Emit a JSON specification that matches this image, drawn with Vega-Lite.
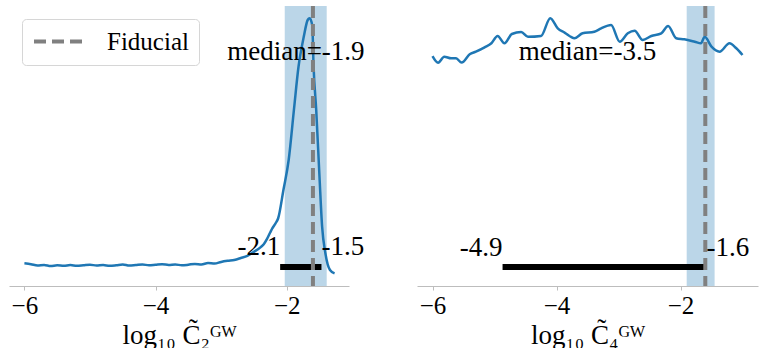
{
  "$schema": "https://vega.github.io/schema/vega-lite/v6.json",
  "padding": {"left": 9, "top": 4, "right": 6, "bottom": 0},
  "bounds": "flush",
  "spacing": 68,
  "config": {
    "view": {"stroke": null},
    "font": "Liberation Serif, DejaVu Serif, serif",
    "axisX": {
      "grid": false,
      "domainColor": "#bdbdbd",
      "domainWidth": 1,
      "tickColor": "#bdbdbd",
      "tickSize": 4,
      "labelFont": "Liberation Serif, DejaVu Serif, serif",
      "labelFontSize": 25,
      "labelColor": "black",
      "labelPadding": 3,
      "titleFont": "Liberation Serif, DejaVu Serif, serif",
      "titleFontSize": 27,
      "titleFontWeight": "normal",
      "titleColor": "black",
      "titlePadding": 4
    }
  },
  "datasets": {
    "kde2": [
      {"x": -6.0, "d": 0.081}, {"x": -5.9, "d": 0.078}, {"x": -5.8, "d": 0.073}, {"x": -5.7, "d": 0.075},
      {"x": -5.6, "d": 0.071}, {"x": -5.5, "d": 0.074}, {"x": -5.4, "d": 0.072}, {"x": -5.3, "d": 0.075},
      {"x": -5.2, "d": 0.072}, {"x": -5.1, "d": 0.074}, {"x": -5.0, "d": 0.076}, {"x": -4.9, "d": 0.073},
      {"x": -4.8, "d": 0.075}, {"x": -4.7, "d": 0.072}, {"x": -4.6, "d": 0.074}, {"x": -4.5, "d": 0.077},
      {"x": -4.4, "d": 0.073}, {"x": -4.3, "d": 0.075}, {"x": -4.2, "d": 0.077}, {"x": -4.1, "d": 0.074},
      {"x": -4.0, "d": 0.076}, {"x": -3.9, "d": 0.078}, {"x": -3.8, "d": 0.075}, {"x": -3.7, "d": 0.077},
      {"x": -3.6, "d": 0.074}, {"x": -3.5, "d": 0.076}, {"x": -3.4, "d": 0.079}, {"x": -3.3, "d": 0.077},
      {"x": -3.2, "d": 0.082}, {"x": -3.1, "d": 0.080}, {"x": -3.0, "d": 0.086}, {"x": -2.9, "d": 0.090},
      {"x": -2.8, "d": 0.093}, {"x": -2.7, "d": 0.100}, {"x": -2.6, "d": 0.108}, {"x": -2.5, "d": 0.122},
      {"x": -2.4, "d": 0.138}, {"x": -2.35, "d": 0.149}, {"x": -2.3, "d": 0.168}, {"x": -2.25, "d": 0.192},
      {"x": -2.22, "d": 0.206}, {"x": -2.17, "d": 0.224}, {"x": -2.13, "d": 0.242}, {"x": -2.05, "d": 0.343},
      {"x": -1.97, "d": 0.45}, {"x": -1.89, "d": 0.629}, {"x": -1.82, "d": 0.783}, {"x": -1.74, "d": 0.89},
      {"x": -1.68, "d": 0.95}, {"x": -1.65, "d": 0.956}, {"x": -1.61, "d": 0.93}, {"x": -1.59, "d": 0.783},
      {"x": -1.55, "d": 0.629}, {"x": -1.5, "d": 0.39}, {"x": -1.46, "d": 0.212}, {"x": -1.41, "d": 0.117},
      {"x": -1.34, "d": 0.057}, {"x": -1.27, "d": 0.045}
    ],
    "kde4": [
      {"x": -6.0, "d": 0.821}, {"x": -5.91, "d": 0.7975}, {"x": -5.81, "d": 0.819}, {"x": -5.7, "d": 0.813},
      {"x": -5.62, "d": 0.813}, {"x": -5.53, "d": 0.798}, {"x": -5.4, "d": 0.8275}, {"x": -5.3, "d": 0.837},
      {"x": -5.16, "d": 0.8525}, {"x": -5.05, "d": 0.867}, {"x": -4.95, "d": 0.893}, {"x": -4.84, "d": 0.867},
      {"x": -4.72, "d": 0.9}, {"x": -4.57, "d": 0.907}, {"x": -4.46, "d": 0.89}, {"x": -4.25, "d": 0.893},
      {"x": -4.1, "d": 0.956}, {"x": -3.98, "d": 0.92}, {"x": -3.87, "d": 0.905}, {"x": -3.71, "d": 0.885},
      {"x": -3.58, "d": 0.9025}, {"x": -3.39, "d": 0.908}, {"x": -3.28, "d": 0.92}, {"x": -3.12, "d": 0.932},
      {"x": -2.98, "d": 0.8725}, {"x": -2.85, "d": 0.9025}, {"x": -2.74, "d": 0.912}, {"x": -2.61, "d": 0.879},
      {"x": -2.47, "d": 0.893}, {"x": -2.31, "d": 0.9025}, {"x": -2.2, "d": 0.929}, {"x": -2.07, "d": 0.885},
      {"x": -1.94, "d": 0.881}, {"x": -1.77, "d": 0.8725}, {"x": -1.67, "d": 0.867}, {"x": -1.61, "d": 0.89},
      {"x": -1.5, "d": 0.855}, {"x": -1.37, "d": 0.837}, {"x": -1.21, "d": 0.867}, {"x": -1.1, "d": 0.849},
      {"x": -1.0, "d": 0.825}
    ],
    "stats2": [
      {"median": -1.86, "median_label": "median=-1.9", "lo": -2.1, "hi": -1.47, "lo_label": "-2.1", "hi_label": "-1.5", "band_lo": -2.03, "band_hi": -1.39, "fiducial": -1.6}
    ],
    "stats4": [
      {"median": -3.5, "median_label": "median=-3.5", "lo": -4.87, "hi": -1.58, "lo_label": "-4.9", "hi_label": "-1.6", "band_lo": -1.9, "band_hi": -1.45, "fiducial": -1.6}
    ]
  },
  "hconcat": [
    {
      "width": 340,
      "height": 280,
      "layer": [
        {
          "data": {"name": "stats2"},
          "mark": {"type": "rect", "color": "#1f77b4", "opacity": 0.3},
          "encoding": {
            "x": {"field": "band_lo", "type": "quantitative", "scale": {"domain": [-6.235, -1.05], "nice": false, "zero": false}, "title": "log₁₀ C̃₂ᴳᵂ", "axis": {"values": [-6, -4, -2], "format": "d"}},
            "x2": {"field": "band_hi"}
          }
        },
        {
          "data": {"name": "kde2"},
          "mark": {"type": "line", "color": "#1f77b4", "strokeWidth": 2.5, "interpolate": "monotone"},
          "encoding": {
            "x": {"field": "x", "type": "quantitative"},
            "y": {"field": "d", "type": "quantitative", "scale": {"domain": [0, 1], "nice": false}, "axis": null}
          }
        },
        {
          "data": {"name": "stats2"},
          "mark": {"type": "rule", "color": "black", "strokeWidth": 6},
          "encoding": {
            "x": {"field": "lo", "type": "quantitative"},
            "x2": {"field": "hi"},
            "y": {"datum": 0.068, "type": "quantitative"}
          }
        },
        {
          "data": {"name": "stats2"},
          "mark": {"type": "rule", "strokeWidth": 4, "strokeDash": [12, 6]},
          "encoding": {
            "x": {"field": "fiducial", "type": "quantitative"},
            "stroke": {
              "datum": "Fiducial",
              "type": "nominal",
              "scale": {"range": ["#808080"]},
              "legend": {
                "orient": "none",
                "legendX": 13,
                "legendY": 13,
                "title": null,
                "padding": 10,
                "fillColor": "white",
                "strokeColor": "#d6d6d6",
                "cornerRadius": 4,
                "symbolType": "M-1,0H4",
                "symbolSize": 441,
                "symbolStrokeWidth": 4,
                "symbolDash": [12, 6],
                "labelFont": "Liberation Serif, DejaVu Serif, serif",
                "labelFontSize": 25,
                "labelColor": "black",
                "labelOffset": 50
              }
            }
          }
        },
        {
          "data": {"name": "stats2"},
          "mark": {"type": "text", "align": "right", "baseline": "alphabetic", "fontSize": 27, "color": "black"},
          "encoding": {
            "x": {"field": "lo", "type": "quantitative"},
            "y": {"datum": 0.111, "type": "quantitative"},
            "text": {"field": "lo_label"}
          }
        },
        {
          "data": {"name": "stats2"},
          "mark": {"type": "text", "align": "left", "baseline": "alphabetic", "fontSize": 27, "color": "black"},
          "encoding": {
            "x": {"field": "hi", "type": "quantitative"},
            "y": {"datum": 0.111, "type": "quantitative"},
            "text": {"field": "hi_label"}
          }
        },
        {
          "data": {"name": "stats2"},
          "mark": {"type": "text", "align": "center", "baseline": "alphabetic", "fontSize": 27, "color": "black"},
          "encoding": {
            "x": {"field": "median", "type": "quantitative"},
            "y": {"datum": 0.807, "type": "quantitative"},
            "text": {"field": "median_label"}
          }
        }
      ]
    },
    {
      "width": 341,
      "height": 280,
      "layer": [
        {
          "data": {"name": "stats4"},
          "mark": {"type": "rect", "color": "#1f77b4", "opacity": 0.3},
          "encoding": {
            "x": {"field": "band_lo", "type": "quantitative", "scale": {"domain": [-6.25, -0.75], "nice": false, "zero": false}, "title": "log₁₀ C̃₄ᴳᵂ", "axis": {"values": [-6, -4, -2], "format": "d"}},
            "x2": {"field": "band_hi"}
          }
        },
        {
          "data": {"name": "kde4"},
          "mark": {"type": "line", "color": "#1f77b4", "strokeWidth": 2.5, "interpolate": "monotone"},
          "encoding": {
            "x": {"field": "x", "type": "quantitative"},
            "y": {"field": "d", "type": "quantitative", "scale": {"domain": [0, 1], "nice": false}, "axis": null}
          }
        },
        {
          "data": {"name": "stats4"},
          "mark": {"type": "rule", "color": "black", "strokeWidth": 6},
          "encoding": {
            "x": {"field": "lo", "type": "quantitative"},
            "x2": {"field": "hi"},
            "y": {"datum": 0.068, "type": "quantitative"}
          }
        },
        {
          "data": {"name": "stats4"},
          "mark": {"type": "rule", "color": "#808080", "strokeWidth": 4, "strokeDash": [12, 6]},
          "encoding": {
            "x": {"field": "fiducial", "type": "quantitative"}
          }
        },
        {
          "data": {"name": "stats4"},
          "mark": {"type": "text", "align": "right", "baseline": "alphabetic", "fontSize": 27, "color": "black"},
          "encoding": {
            "x": {"field": "lo", "type": "quantitative"},
            "y": {"datum": 0.107, "type": "quantitative"},
            "text": {"field": "lo_label"}
          }
        },
        {
          "data": {"name": "stats4"},
          "mark": {"type": "text", "align": "left", "baseline": "alphabetic", "fontSize": 27, "color": "black"},
          "encoding": {
            "x": {"field": "hi", "type": "quantitative"},
            "y": {"datum": 0.107, "type": "quantitative"},
            "text": {"field": "hi_label"}
          }
        },
        {
          "data": {"name": "stats4"},
          "mark": {"type": "text", "align": "center", "baseline": "alphabetic", "fontSize": 27, "color": "black"},
          "encoding": {
            "x": {"field": "median", "type": "quantitative"},
            "y": {"datum": 0.807, "type": "quantitative"},
            "text": {"field": "median_label"}
          }
        }
      ]
    }
  ],
  "resolve": {"scale": {"stroke": "independent", "x": "independent", "y": "independent"}, "legend": {"stroke": "independent"}}
}
